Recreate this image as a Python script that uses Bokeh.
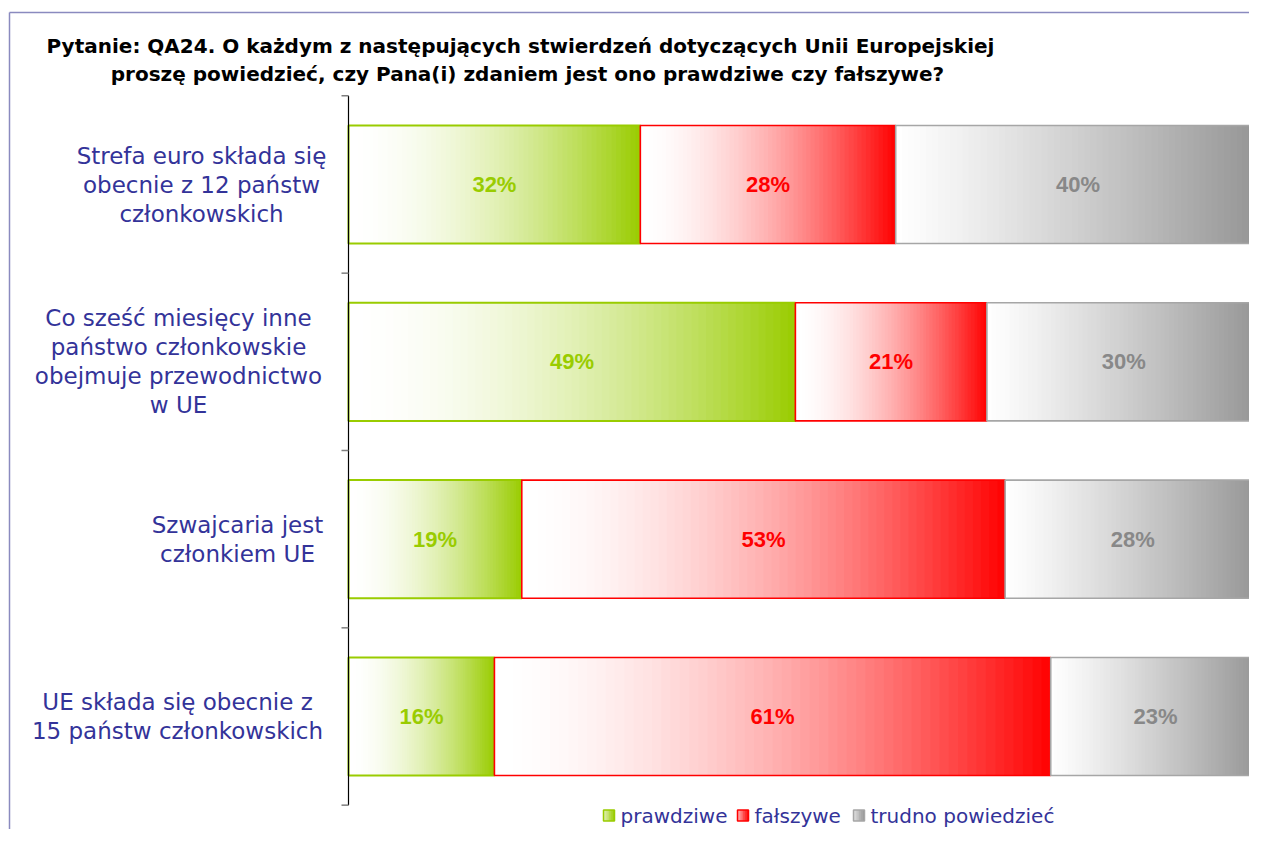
import numpy as np
from bokeh.plotting import figure
from bokeh.models import Range1d, ColumnDataSource
from bokeh.core.properties import value
from bokeh.embed import file_html
from bokeh.resources import INLINE

# ---------------- data ----------------
title_lines = [
    "Pytanie: QA24. O każdym z następujących stwierdzeń dotyczących Unii Europejskiej",
    "proszę powiedzieć, czy Pana(i) zdaniem jest ono prawdziwe czy fałszywe?",
]
categories = [
    "Strefa euro składa się\nobecnie z 12 państw\nczłonkowskich",
    "Co sześć miesięcy inne\npaństwo członkowskie\nobejmuje przewodnictwo\nw UE",
    "Szwajcaria jest\nczłonkiem UE",
    "UE składa się obecnie z\n15 państw członkowskich",
]
series_names = ["prawdziwe", "fałszywe", "trudno powiedzieć"]
prawdziwe = [32, 49, 19, 16]
falszywe = [28, 21, 53, 61]
trudno = [40, 30, 28, 23]
series_values = [prawdziwe, falszywe, trudno]

# ---------------- style ----------------
end_colors = [(0x99, 0xCC, 0x00), (0xFF, 0x00, 0x00), (0x94, 0x94, 0x94)]
gammas = [1.8, 1.7, 1.15]
border_colors = ["#99cc00", "#ff0000", "#a6a6a6"]
border_widths = [2, 1.6, 1.6]
text_colors = ["#99cc00", "#ff0000", "#888888"]
label_color = "#333399"
NSLICE = 60

W, H = 1249, 829
# picture-pixel layout helpers
X0_PX, X100_PX = 348.0, 1260.0
SX = (X100_PX - X0_PX) / 100.0
Y0_PX, DY = 184.0, 177.33


def wx(px):
    return (px - X0_PX) / SX


def wy(py):
    return (py - Y0_PX) / DY


def grad_color(rgb, t, gamma):
    f = t ** gamma
    r = int(round(255 + (rgb[0] - 255) * f))
    g = int(round(255 + (rgb[1] - 255) * f))
    b = int(round(255 + (rgb[2] - 255) * f))
    return "#%02x%02x%02x" % (r, g, b)


p = figure(
    width=W, height=H,
    x_range=Range1d(wx(0), wx(W)),
    y_range=Range1d(wy(H), wy(0)),
    x_axis_location=None, y_axis_location=None,
    output_backend="svg", toolbar_location=None,
    min_border=0,
)
p.grid.visible = False
p.outline_line_color = None
p.background_fill_color = "white"
p.border_fill_color = "white"

# outer chart frame (top and left edges visible)
p.segment(x0=[wx(9), wx(9)], y0=[wy(12), wy(12)], x1=[wx(9), wx(1300)], y1=[wy(900), wy(12)],
          line_color="#8a8abf", line_width=1.5)

HALF = 0.333
n = len(categories)

for i in range(n):
    left = 0.0
    for j, vals in enumerate(series_values):
        v = vals[i]
        ls, rs, cs = [], [], []
        for k in range(NSLICE):
            l = left + v * k / NSLICE
            r = left + v * (k + 1) / NSLICE + (0.08 if k < NSLICE - 1 else 0)
            ls.append(l)
            rs.append(r)
            cs.append(grad_color(end_colors[j], (k + 0.5) / NSLICE, gammas[j]))
        p.quad(left=ls, right=rs, top=[i - HALF] * NSLICE, bottom=[i + HALF] * NSLICE,
               fill_color=cs, line_color=None)
        p.quad(left=[left], right=[left + v], top=[i - HALF], bottom=[i + HALF],
               fill_color=None, line_color=border_colors[j], line_width=border_widths[j])
        left += v

# percentage labels
for j, vals in enumerate(series_values):
    xs, ys, ts = [], [], []
    for i in range(n):
        base = sum(series_values[q][i] for q in range(j))
        xs.append(base + vals[i] / 2)
        ys.append(i)
        ts.append(f"{vals[i]}%")
    p.text(x=xs, y=ys, text=ts, text_font=value("Liberation Sans"), text_font_style="bold",
           text_font_size="22px", text_color=text_colors[j], text_align="center",
           text_baseline="middle")

# category axis line and ticks (ticks between categories)
bounds = [b - 0.5 for b in range(n + 1)]
p.segment(x0=[0], y0=[bounds[0]], x1=[0], y1=[bounds[-1]], line_color="black", line_width=1.2)
p.segment(x0=[wx(341)] * len(bounds), y0=bounds, x1=[0] * len(bounds), y1=bounds,
          line_color="#7f7f7f", line_width=1.5)

# category labels (lines centred inside a right-aligned block)
label_centers_px = [201, 178, 237, 177]
LINE_H = 29
lx, ly, lt, lo = [], [], [], []
for i, cat in enumerate(categories):
    lines = cat.split("\n")
    m = len(lines)
    for k, line in enumerate(lines):
        lx.append(wx(label_centers_px[i]))
        ly.append(i)
        lt.append(line)
        lo.append((k - (m - 1) / 2) * LINE_H)
src = ColumnDataSource(dict(x=lx, y=ly, text=lt, yo=lo))
p.text(x="x", y="y", text="text", y_offset="yo", source=src, text_font=value("DejaVu Sans"),
       text_font_size="23px", text_color=label_color, text_align="center", text_baseline="middle")

# title
p.text(x=[wx(520), wx(527)], y=[wy(45), wy(73)], text=title_lines, text_font=value("DejaVu Sans"),
       text_font_style="bold", text_font_size="20px", text_color="black", text_align="center",
       text_baseline="middle")

# legend (drawn manually to keep gradient swatches)
leg_sq_px = [603, 737, 853]
leg_y_px = 815
SQ = 11
for j, name in enumerate(series_names):
    x0 = leg_sq_px[j]
    ns = 6
    ls = [wx(x0 + SQ * k / ns) for k in range(ns)]
    rs = [wx(x0 + SQ * (k + 1) / ns + 0.3) for k in range(ns)]
    cs = [grad_color(end_colors[j], 0.3 + 0.7 * (k + 0.5) / ns, 1.0) for k in range(ns)]
    p.quad(left=ls, right=rs, top=[wy(leg_y_px - SQ / 2)] * ns, bottom=[wy(leg_y_px + SQ / 2)] * ns,
           fill_color=cs, line_color=None)
    p.quad(left=[wx(x0)], right=[wx(x0 + SQ)], top=[wy(leg_y_px - SQ / 2)], bottom=[wy(leg_y_px + SQ / 2)],
           fill_color=None, line_color=border_colors[j], line_width=1.5)
    p.text(x=[wx(x0 + SQ + 6)], y=[wy(leg_y_px)], text=[name], text_font=value("DejaVu Sans"),
           text_font_size="20px", text_color=label_color, text_align="left", text_baseline="middle")

open("out.html", "w").write(file_html(p, INLINE))
